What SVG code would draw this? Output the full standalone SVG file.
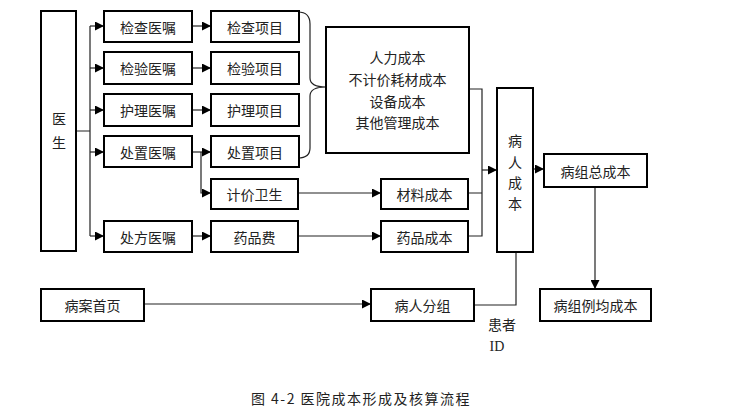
<svg xmlns="http://www.w3.org/2000/svg" width="732" height="413" viewBox="0 0 732 413">
<style>
.b{fill:#fff;stroke:#000;stroke-width:2}
.t{font-family:"Noto Sans CJK SC","Noto Sans",sans-serif;font-size:14px;fill:#222;text-anchor:middle;dominant-baseline:central}
.c{fill:none;stroke:#222;stroke-width:1.2}
</style>
<defs>
<marker id="a" viewBox="0 0 10 10" refX="10" refY="5" markerWidth="9" markerHeight="9" markerUnits="userSpaceOnUse" orient="auto"><path d="M0,0L10,5L0,10z" fill="#000"/></marker>
</defs>
<rect width="732" height="413" fill="#fff"/>
<g id="connectors">
<path class="c" d="M76,131H90M90,26V236"/>
<path class="c" marker-end="url(#a)" d="M90,26H104"/>
<path class="c" marker-end="url(#a)" d="M90,68H104"/>
<path class="c" marker-end="url(#a)" d="M90,110H104"/>
<path class="c" marker-end="url(#a)" d="M90,152H104"/>
<path class="c" marker-end="url(#a)" d="M90,236H104"/>
<path class="c" marker-end="url(#a)" d="M192,26H211"/>
<path class="c" marker-end="url(#a)" d="M192,68H211"/>
<path class="c" marker-end="url(#a)" d="M192,110H211"/>
<path class="c" marker-end="url(#a)" d="M192,152H211"/>
<path class="c" marker-end="url(#a)" d="M201,152V193H211"/>
<path class="c" marker-end="url(#a)" d="M192,236H211"/>
<path class="c" marker-end="url(#a)" d="M298,193H381"/>
<path class="c" marker-end="url(#a)" d="M298,236H381"/>
<path class="c" d="M298,12Q310,12 310,24V78Q310,87 326,87Q310,87 310,96V148Q310,158 298,158"/>
<path class="c" d="M469,89H482V236H468M468,193H482"/>
<path class="c" marker-end="url(#a)" d="M482,170H497"/>
<path class="c" marker-end="url(#a)" d="M533,169H544"/>
<path class="c" marker-end="url(#a)" d="M595,187V289"/>
<path class="c" marker-end="url(#a)" d="M144,304H371"/>
<path class="c" d="M474,305H516V252"/>
</g>
<g id="n_doctor"><rect class="b" x="41" y="11" width="35" height="240"/><text class="t" x="59" y="118">医</text><text class="t" x="59" y="142">生</text></g>
<g id="n_jcyz"><rect class="b" x="104" y="11" width="88" height="31"/><text class="t" x="148" y="26.5">检查医嘱</text></g>
<g id="n_jyyz"><rect class="b" x="104" y="52" width="88" height="32"/><text class="t" x="148" y="68">检验医嘱</text></g>
<g id="n_hlyz"><rect class="b" x="104" y="94" width="88" height="32"/><text class="t" x="148" y="110">护理医嘱</text></g>
<g id="n_czyz"><rect class="b" x="104" y="136" width="88" height="31"/><text class="t" x="148" y="151.5">处置医嘱</text></g>
<g id="n_cfyz"><rect class="b" x="104" y="221" width="88" height="31"/><text class="t" x="148" y="236.5">处方医嘱</text></g>
<g id="n_jcxm"><rect class="b" x="211" y="11" width="88" height="31"/><text class="t" x="255" y="26.5">检查项目</text></g>
<g id="n_jyxm"><rect class="b" x="211" y="52" width="88" height="32"/><text class="t" x="255" y="68">检验项目</text></g>
<g id="n_hlxm"><rect class="b" x="211" y="94" width="88" height="32"/><text class="t" x="255" y="110">护理项目</text></g>
<g id="n_czxm"><rect class="b" x="211" y="136" width="88" height="31"/><text class="t" x="255" y="151.5">处置项目</text></g>
<g id="n_jjws"><rect class="b" x="211" y="179" width="87" height="30"/><text class="t" x="254.5" y="194">计价卫生</text></g>
<g id="n_ypf"><rect class="b" x="211" y="221" width="87" height="31"/><text class="t" x="254.5" y="236.5">药品费</text></g>
<g id="n_costs"><rect class="b" x="326" y="27" width="143" height="126"/>
<text class="t" x="397.5" y="57">人力成本</text>
<text class="t" x="397.5" y="79">不计价耗材成本</text>
<text class="t" x="397.5" y="101">设备成本</text>
<text class="t" x="397.5" y="122">其他管理成本</text></g>
<g id="n_clcb"><rect class="b" x="381" y="179" width="87" height="30"/><text class="t" x="424.5" y="194">材料成本</text></g>
<g id="n_ypcb"><rect class="b" x="381" y="221" width="87" height="31"/><text class="t" x="424.5" y="236.5">药品成本</text></g>
<g id="n_brcb"><rect class="b" x="497" y="88" width="36" height="164"/>
<text class="t" x="515" y="140">病</text><text class="t" x="515" y="162">人</text><text class="t" x="515" y="182">成</text><text class="t" x="515" y="203">本</text></g>
<g id="n_bzzcb"><rect class="b" x="544" y="154" width="103" height="33"/><text class="t" x="595.5" y="170.5">病组总成本</text></g>
<g id="n_bzljcb"><rect class="b" x="540" y="289" width="111" height="32"/><text class="t" x="595.5" y="305">病组例均成本</text></g>
<g id="n_basy"><rect class="b" x="41" y="289" width="103" height="32"/><text class="t" x="92.5" y="305">病案首页</text></g>
<g id="n_brfz"><rect class="b" x="371" y="289" width="103" height="32"/><text class="t" x="422.5" y="305">病人分组</text></g>
<text class="t" x="502" y="324">患者</text>
<text class="t" x="497" y="346" style="font-family:'Liberation Serif',serif">ID</text>
<text class="t" x="361" y="398" xml:space="preserve" style="letter-spacing:1.5px">图 4-2 医院成本形成及核算流程</text>
</svg>
